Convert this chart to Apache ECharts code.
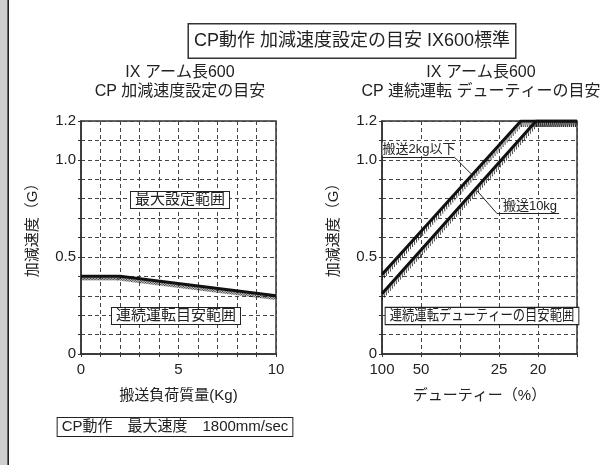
<!DOCTYPE html>
<html>
<head>
<meta charset="utf-8">
<script src="https://cdn.jsdelivr.net/npm/echarts@6/dist/echarts.min.js"></script>
<style>
body { margin: 0; background: #fff; }
#main { width: 609px; height: 465px; }
</style>
</head>
<body>
<div id="main"></div>
<script>
// left chart: load (kg) vs accel (G)
var loadKg = [0, 2, 10];
var accelMax = [0.4, 0.4, 0.3];

// right chart: x = 1/duty (1 -> 100%, 2 -> 50% ...)
var dutyTickLabels = {1: '100', 2: '50', 4: '25', 5: '20'};
var duty2kgX = [1, 4.56, 6];
var duty2kgY = [0.41, 1.2, 1.2];
var duty10kgX = [1, 4.95, 6];
var duty10kgY = [0.31, 1.2, 1.2];

var yTickLabels = {0: '0', 5: '0.5', 10: '1.0', 12: '1.2'};

var FONT = "'Liberation Sans', 'Noto Sans CJK JP', sans-serif";
var INK = '#222';

function pairs(xs, ys) {
    var out = [];
    for (var i = 0; i < xs.length; i++) out.push([xs[i], ys[i]]);
    return out;
}
function segments(xs, ys) {
    var out = [];
    for (var i = 0; i < xs.length - 1; i++) out.push([xs[i], ys[i], xs[i + 1], ys[i + 1]]);
    return out;
}

// hatch ticks under a line
function hatch(dx, dy, step) {
    return function (params, api) {
        var p1 = api.coord([api.value(0), api.value(1)]);
        var p2 = api.coord([api.value(2), api.value(3)]);
        var len = Math.abs(p2[0] - p1[0]);
        var n = Math.floor(len / step);
        var kids = [];
        for (var i = 0; i <= n; i++) {
            var t = n ? i / n : 0;
            var x = p1[0] + (p2[0] - p1[0]) * t;
            var y = p1[1] + (p2[1] - p1[1]) * t;
            kids.push({
                type: 'line',
                shape: {x1: x, y1: y + 1, x2: x + dx, y2: y + dy},
                style: {stroke: '#111', lineWidth: 0.8}
            });
        }
        return {type: 'group', children: kids};
    };
}

function yAxisCfg(idx) {
    return {
        gridIndex: idx, type: 'value', min: 0, max: 1.2, interval: 0.1,
        name: '加減速度（G）', nameLocation: 'middle', nameGap: 41, nameRotate: 90,
        nameTextStyle: {fontFamily: FONT, fontSize: 15, color: INK, padding: [0, 0, 0, 22]},
        axisLine: {show: true, lineStyle: {color: '#333', width: 1.5}},
        axisTick: {show: true, length: 3, lineStyle: {color: '#333'}},
        axisLabel: {
            margin: 5, fontFamily: FONT, fontSize: 15, color: INK,
            formatter: function (v) { var k = Math.round(v * 10); return yTickLabels[k] || ''; }
        },
        splitLine: {show: true, lineStyle: {color: '#444', type: [4, 3], width: 1}}
    };
}

var chart = echarts.init(document.getElementById('main'));

var option = {
    animation: false,
    grid: [
        {left: 81, top: 121, width: 195, height: 233, show: true, borderColor: '#333', borderWidth: 1.5},
        {left: 382, top: 121, width: 195, height: 233, show: true, borderColor: '#333', borderWidth: 1.5}
    ],
    xAxis: [
        {
            gridIndex: 0, type: 'value', min: 0, max: 10, interval: 1,
            name: '搬送負荷質量(Kg)', nameLocation: 'middle', nameGap: 34,
            nameTextStyle: {fontFamily: FONT, fontSize: 15, color: INK},
            axisLine: {lineStyle: {color: '#333', width: 1.5}},
            axisTick: {show: true, length: 3, lineStyle: {color: '#333'}},
            axisLabel: {
                margin: 8, fontFamily: FONT, fontSize: 15, color: INK,
                formatter: function (v) { return v % 5 === 0 ? String(v) : ''; }
            },
            splitLine: {show: true, lineStyle: {color: '#444', type: [4, 3], width: 1}}
        },
        {
            gridIndex: 1, type: 'value', min: 1, max: 6, interval: 1,
            name: 'デューティー（%）', nameLocation: 'middle', nameGap: 34,
            nameTextStyle: {fontFamily: FONT, fontSize: 15, color: INK},
            axisLine: {lineStyle: {color: '#333', width: 1.5}},
            axisTick: {show: true, length: 3, lineStyle: {color: '#333'}},
            axisLabel: {
                margin: 8, fontFamily: FONT, fontSize: 15, color: INK,
                formatter: function (v) { return dutyTickLabels[v] || ''; }
            },
            splitLine: {show: true, lineStyle: {color: '#444', type: [4, 3], width: 1}}
        }
    ],
    yAxis: [yAxisCfg(0), yAxisCfg(1)],
    series: [
        {
            type: 'custom', xAxisIndex: 0, yAxisIndex: 0, clip: true,
            renderItem: hatch(-2.5, 4, 1.5),
            encode: {x: [0, 2], y: [1, 3]},
            data: segments(loadKg, accelMax), z: 3
        },
        {
            type: 'line', xAxisIndex: 0, yAxisIndex: 0, symbol: 'none',
            lineStyle: {color: '#111', width: 3},
            data: pairs(loadKg, accelMax), z: 4
        },
        {
            type: 'custom', xAxisIndex: 1, yAxisIndex: 1, clip: true,
            renderItem: hatch(0.5, 6, 2),
            encode: {x: [0, 2], y: [1, 3]},
            data: segments(duty2kgX, duty2kgY), z: 3
        },
        {
            type: 'custom', xAxisIndex: 1, yAxisIndex: 1, clip: true,
            renderItem: hatch(0.5, 6, 2),
            encode: {x: [0, 2], y: [1, 3]},
            data: segments(duty10kgX, duty10kgY), z: 3
        },
        {
            type: 'line', xAxisIndex: 1, yAxisIndex: 1, symbol: 'none',
            lineStyle: {color: '#111', width: 3},
            data: pairs(duty2kgX, duty2kgY), z: 4,
            markLine: {
                silent: true, symbol: 'none', label: {show: false},
                lineStyle: {color: '#222', width: 1, type: 'solid'},
                data: [
                    [{coord: [1, 1.015]}, {coord: [2.85, 1.015]}],
                    [{coord: [2.85, 1.015]}, {coord: [3.31, 0.923]}],
                    [{coord: [3.95, 0.723]}, {coord: [5.54, 0.723]}],
                    [{coord: [3.95, 0.723]}, {coord: [3.44, 0.84]}]
                ]
            }
        },
        {
            type: 'line', xAxisIndex: 1, yAxisIndex: 1, symbol: 'none',
            lineStyle: {color: '#111', width: 3},
            data: pairs(duty10kgX, duty10kgY), z: 4
        }
    ],
    graphic: [
        // left strip
        {type: 'rect', shape: {x: 0, y: 0, width: 8, height: 465}, style: {fill: '#cfcfcf'}},
        {type: 'line', shape: {x1: 8.2, y1: 0, x2: 8.2, y2: 465}, style: {stroke: '#222', lineWidth: 1.6}},
        {
            type: 'text', x: 352, y: 41,
            style: {
                text: 'CP動作 加減速度設定の目安 IX600標準', font: '18px ' + FONT, fill: INK,
                align: 'center', verticalAlign: 'middle',
                padding: [8, 5, 7, 5], borderColor: '#333', borderWidth: 1.5, backgroundColor: '#fff'
            }
        },
        {
            type: 'text', x: 180, y: 82,
            style: {
                text: 'IX アーム長600\nCP 加減速度設定の目安', font: '16px ' + FONT, fill: INK,
                align: 'center', verticalAlign: 'middle', lineHeight: 19
            }
        },
        {
            type: 'text', x: 481, y: 82,
            style: {
                text: 'IX アーム長600\nCP 連続運転 デューティーの目安', font: '16px ' + FONT, fill: INK,
                align: 'center', verticalAlign: 'middle', lineHeight: 19
            }
        },
        {
            type: 'text', x: 180, y: 200, z: 10,
            style: {
                text: '最大設定範囲', font: '15px ' + FONT, fill: INK,
                align: 'center', verticalAlign: 'middle',
                padding: [1, 4, 0, 4], borderColor: '#222', borderWidth: 1, backgroundColor: '#fff'
            }
        },
        {
            type: 'text', x: 176, y: 316, z: 10,
            style: {
                text: '連続運転目安範囲', font: '15px ' + FONT, fill: INK,
                align: 'center', verticalAlign: 'middle',
                padding: [1, 4, 0, 4], borderColor: '#222', borderWidth: 1, backgroundColor: '#fff'
            }
        },
        {
            type: 'text', x: 482, y: 316, z: 10, scaleX: 0.82,
            style: {
                text: '連続運転デューティーの目安範囲', font: '15px ' + FONT, fill: INK,
                align: 'center', verticalAlign: 'middle',
                padding: [1, 5, 0, 5], borderColor: '#222', borderWidth: 1.2, backgroundColor: '#fff'
            }
        },
        {
            type: 'text', x: 419, y: 149, z: 10,
            style: {
                text: '搬送2kg以下', font: '13px ' + FONT, fill: INK,
                align: 'center', verticalAlign: 'middle', backgroundColor: '#fff'
            }
        },
        {
            type: 'text', x: 530, y: 206, z: 10,
            style: {
                text: '搬送10kg', font: '13px ' + FONT, fill: INK,
                align: 'center', verticalAlign: 'middle', backgroundColor: '#fff'
            }
        },
        {
            type: 'text', x: 175, y: 427,
            style: {
                text: 'CP動作　最大速度　1800mm/sec', font: '15px ' + FONT, fill: INK,
                align: 'center', verticalAlign: 'middle',
                padding: [2, 4, 1, 4], borderColor: '#222', borderWidth: 1, backgroundColor: '#fff'
            }
        }
    ]
};

chart.setOption(option);
</script>
</body>
</html>
